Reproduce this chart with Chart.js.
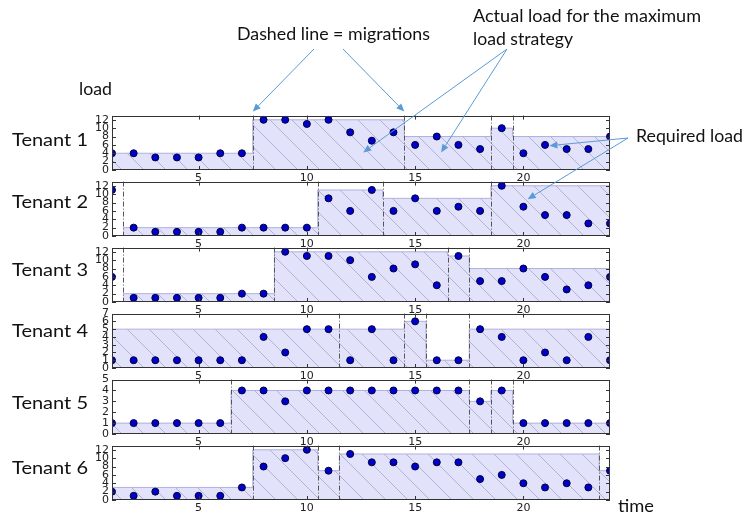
<!DOCTYPE html>
<html>
<head>
<meta charset="utf-8">
<script src="https://cdn.jsdelivr.net/npm/chart.js@4.4.0/dist/chart.umd.min.js"></script>
<style>
  body { margin: 0; background: #fff; }
  #page { position: relative; width: 744px; height: 516px; overflow: hidden; background: #fff; }
  #page canvas { position: absolute; left: 80px; }
  #notes { position: absolute; left: 0; top: 0; }
  #notes text { font-family: Lato, "Open Sans", sans-serif; font-size: 17px; fill: #111; }
</style>
</head>
<body>
<div id="page"></div>
<script>
// time steps on the x axis
const time = [1, 2, 3, 4, 5, 6, 7, 8, 9, 10, 11, 12, 13, 14, 15, 16, 17, 18, 19, 20, 21, 22, 23, 24];
const xTicks = [5, 10, 15, 20];

const tenants = ["Tenant 1", "Tenant 2", "Tenant 3", "Tenant 4", "Tenant 5", "Tenant 6"];

// required load (dots)
const load1 = [4, 4, 3, 3, 3, 4, 4, 12, 12, 11, 12, 9, 7, 9, 6, 8, 6, 5, 10, 4, 6, 5, 5, 8];
const load2 = [11, 2, 1, 1, 1, 1, 2, 2, 2, 2, 9, 6, 11, 6, 9, 6, 7, 6, 12, 7, 5, 5, 3, 3];
const load3 = [6, 1, 1, 1, 1, 1, 2, 2, 12, 11, 11, 10, 6, 8, 9, 4, 11, 5, 5, 8, 6, 3, 4, 6];
const load4 = [1, 1, 1, 1, 1, 1, 1, 4, 2, 5, 5, 1, 5, 1, 6, 1, 1, 5, 4, 1, 2, 1, 4, 1];
const load5 = [1, 1, 1, 1, 1, 1, 4, 4, 3, 4, 4, 4, 4, 4, 4, 4, 4, 3, 4, 1, 1, 1, 1, 1];
const load6 = [2, 1, 2, 1, 1, 1, 3, 8, 10, 12, 7, 11, 9, 9, 8, 9, 9, 5, 6, 4, 3, 4, 3, 7];

// migrations (dashed lines) and actual load per segment between them
const cuts1 = [7.5, 14.5, 18.5, 19.5];
const alloc1 = [4, 12, 8, 10, 8];
const cuts2 = [1.5, 10.5, 13.5, 18.5];
const alloc2 = [null, 2, 11, 9, 12];
const cuts3 = [1.5, 8.5, 16.5, 17.5];
const alloc3 = [null, 2, 12, 11, 8];
const cuts4 = [11.5, 14.5, 15.5, 17.5];
const alloc4 = [5, 5, 6, 1, 5];
const cuts5 = [6.5, 17.5, 18.5, 19.5];
const alloc5 = [1, 4, 3, 4, 1];
const cuts6 = [7.5, 10.5, 11.5, 23.5];
const alloc6 = [3, 12, 7, 11, 7];

// y axis ranges and tick labels
const yMax = [13, 13, 13, 7, 5, 13];
const yTicks12 = [0, 2, 4, 6, 8, 10, 12];
const yTicks7 = [0, 1, 2, 3, 4, 5, 6, 7];
const yTicks5 = [0, 1, 2, 3, 4, 5];

const loads = [load1, load2, load3, load4, load5, load6];
const cuts = [cuts1, cuts2, cuts3, cuts4, cuts5, cuts6];
const allocs = [alloc1, alloc2, alloc3, alloc4, alloc5, alloc6];
const yTicks = [yTicks12, yTicks12, yTicks12, yTicks7, yTicks5, yTicks12];

const panelTop = [114, 180, 246, 312, 378, 444];

const page = document.getElementById("page");

// lavender fill with "\" hatching
const hatch = (function () {
  const s = 22;
  const c = document.createElement("canvas");
  c.width = s; c.height = s;
  const g = c.getContext("2d");
  g.fillStyle = "rgb(226,226,250)";
  g.fillRect(0, 0, s, s);
  g.strokeStyle = "rgba(120,120,170,0.45)";
  g.lineWidth = 1;
  g.beginPath();
  for (let k = -1; k <= 1; k++) {
    g.moveTo(0, k * s);
    g.lineTo(s, s + k * s);
  }
  g.stroke();
  return g.createPattern(c, "repeat");
})();

function stepPoints(c, alloc) {
  const edges = [time[0]].concat(c);
  const pts = [];
  alloc.forEach(function (v, i) {
    if (v !== null) pts.push({ x: edges[i], y: v });
  });
  pts.push({ x: time[time.length - 1], y: alloc[alloc.length - 1] });
  return pts;
}

const panelDeco = {
  id: "panelDeco",
  beforeDraw(chart) {
    const { ctx, chartArea: a } = chart;
    ctx.save();
    ctx.fillStyle = "#fff";
    ctx.fillRect(a.left, a.top, a.right - a.left, a.bottom - a.top);
    ctx.restore();
  },
  afterDatasetsDraw(chart, args, opts) {
    const { ctx, chartArea: a } = chart;
    const x = chart.scales.x, y = chart.scales.y;
    ctx.save();
    ctx.strokeStyle = "#555";
    ctx.lineWidth = 1;
    ctx.setLineDash([5, 2, 1, 2]);
    opts.cuts.forEach(function (c) {
      const px = Math.round(x.getPixelForValue(c)) + 0.5;
      ctx.beginPath();
      ctx.moveTo(px, a.top);
      ctx.lineTo(px, a.bottom);
      ctx.stroke();
    });
    ctx.setLineDash([]);
    ctx.strokeStyle = "#333";
    ctx.beginPath();
    y.ticks.forEach(function (t) {
      const py = Math.round(y.getPixelForValue(t.value)) + 0.5;
      ctx.moveTo(a.left, py); ctx.lineTo(a.left + 4, py);
      ctx.moveTo(a.right, py); ctx.lineTo(a.right - 4, py);
    });
    x.ticks.forEach(function (t) {
      const px = Math.round(x.getPixelForValue(t.value)) + 0.5;
      ctx.moveTo(px, a.top); ctx.lineTo(px, a.top + 4);
      ctx.moveTo(px, a.bottom); ctx.lineTo(px, a.bottom - 4);
    });
    ctx.stroke();
    ctx.strokeRect(Math.round(a.left) + 0.5, Math.round(a.top) + 0.5,
      Math.round(a.right - a.left) - 1, Math.round(a.bottom - a.top) - 1);
    ctx.restore();
  }
};

const tickFont = { family: "DejaVu Sans", size: 11 };
const charts = [];

for (let i = 0; i < 6; i++) {
  const cv = document.createElement("canvas");
  cv.width = 540; cv.height = 80;
  cv.style.top = (panelTop[i] - 8) + "px";
  page.appendChild(cv);

  const dots = time.map(function (t, j) { return { x: t, y: loads[i][j] }; });

  charts.push(new Chart(cv, {
    type: "scatter",
    data: {
      datasets: [
        {
          type: "line",
          data: stepPoints(cuts[i], allocs[i]),
          stepped: true,
          fill: "origin",
          backgroundColor: hatch,
          borderColor: "rgba(170,170,220,0.9)",
          borderWidth: 1,
          pointRadius: 0,
          order: 2
        },
        {
          type: "scatter",
          data: dots,
          pointRadius: 3.5,
          backgroundColor: "#0000cc",
          borderColor: "#00003a",
          borderWidth: 1,
          clip: 0,
          order: 1
        }
      ]
    },
    options: {
      responsive: false,
      animation: false,
      events: [],
      layout: { padding: { top: 8, right: 10, bottom: 0, left: 0 } },
      plugins: {
        legend: { display: false },
        tooltip: { enabled: false },
        panelDeco: { cuts: cuts[i] }
      },
      scales: {
        x: {
          type: "linear",
          min: 1,
          max: 24,
          afterBuildTicks: function (s) { s.ticks = xTicks.map(function (v) { return { value: v }; }); },
          afterFit: function (s) { s.height = 16; },
          grid: { display: false, drawTicks: false },
          border: { display: false },
          ticks: { autoSkip: false, maxRotation: 0, padding: 2, color: "#222", font: tickFont }
        },
        y: {
          min: 0,
          max: yMax[i],
          afterBuildTicks: function (s) { s.ticks = yTicks[i].map(function (v) { return { value: v }; }); },
          afterFit: function (s) { s.width = 32; },
          grid: { display: false, drawTicks: false },
          border: { display: false },
          ticks: { autoSkip: false, padding: 3, color: "#222", font: tickFont }
        }
      }
    },
    plugins: [panelDeco]
  }));
}

// annotation layer
const NS = "http://www.w3.org/2000/svg";
const svg = document.createElementNS(NS, "svg");
svg.setAttribute("id", "notes");
svg.setAttribute("width", 744);
svg.setAttribute("height", 516);
page.appendChild(svg);

function addText(str, x, y, len) {
  const t = document.createElementNS(NS, "text");
  t.setAttribute("x", x);
  t.setAttribute("y", y);
  t.setAttribute("textLength", len);
  t.setAttribute("lengthAdjust", "spacingAndGlyphs");
  t.textContent = str;
  svg.appendChild(t);
}

function at(i, xv, yv) {
  const c = charts[i];
  return [80 + c.scales.x.getPixelForValue(xv), panelTop[i] - 8 + c.scales.y.getPixelForValue(yv)];
}

function arrow(x1, y1, x2, y2) {
  const col = "#5b9bd5";
  const ang = Math.atan2(y2 - y1, x2 - x1);
  const L = 8, W = 3.5;
  const bx = x2 - L * Math.cos(ang), by = y2 - L * Math.sin(ang);
  const ln = document.createElementNS(NS, "line");
  ln.setAttribute("x1", x1); ln.setAttribute("y1", y1);
  ln.setAttribute("x2", bx); ln.setAttribute("y2", by);
  ln.setAttribute("stroke", col); ln.setAttribute("stroke-width", 1);
  svg.appendChild(ln);
  const p = document.createElementNS(NS, "polygon");
  const px = -Math.sin(ang) * W, py = Math.cos(ang) * W;
  p.setAttribute("points", x2 + "," + y2 + " " + (bx + px) + "," + (by + py) + " " + (bx - px) + "," + (by - py));
  p.setAttribute("fill", col);
  svg.appendChild(p);
}

tenants.forEach(function (name, i) {
  addText(name, 12, [146, 208, 276, 337, 409, 474][i], 76);
});
addText("load", 79, 95, 33);
addText("Dashed line = migrations", 237, 40, 193);
addText("Actual load for the maximum", 473, 22, 228);
addText("load strategy", 473, 45, 100);
addText("Required load", 636, 142, 107);
addText("time", 618, 512, 36);

const m1 = at(0, 7.5, 13);
const m2 = at(0, 14.5, 13);
arrow(314, 49, m1[0], m1[1] - 4);
arrow(343, 49, m2[0], m2[1] - 4);
const a1 = at(0, 12.6, 4.2);
const a2 = at(0, 16.2, 4.2);
arrow(507, 49, a1[0], a1[1]);
arrow(507, 49, a2[0], a2[1]);
const r1 = at(0, 21.2, 5.8);
const r2 = at(1, 20.2, 8.8);
arrow(628, 138, r1[0], r1[1]);
arrow(628, 138, r2[0], r2[1]);
</script>
</body>
</html>
